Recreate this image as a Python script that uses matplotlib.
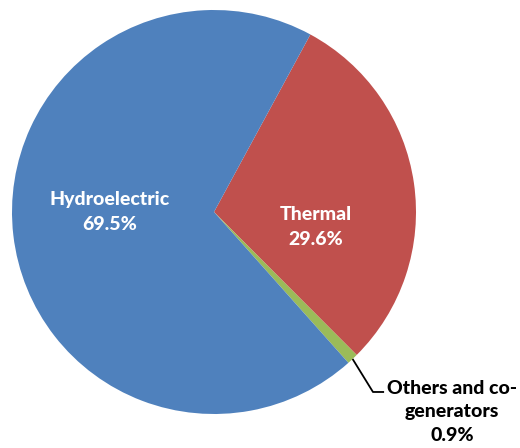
import matplotlib.pyplot as plt
import numpy as np

labels = ["Thermal", "Others and co-\ngenerators", "Hydroelectric"]
shares = [29.6, 0.9, 69.5]
colors = ["#C0504D", "#9BBB59", "#4F81BD"]

FONT = "Lato"

fig = plt.figure(figsize=(5.2, 4.48), dpi=100)
ax = fig.add_axes([12 / 520, 34 / 448, 404 / 520, 404 / 448])

wedges, _ = ax.pie(
    shares,
    colors=colors,
    startangle=61.5,
    counterclock=False,
    radius=1.0,
    wedgeprops={"linewidth": 0},
)
ax.set_xlim(-1, 1)
ax.set_ylim(-1, 1)
ax.set_aspect("equal")
ax.axis("off")

txt = dict(ha="center", va="center", fontweight="black", fontsize=14,
           family=FONT)
ax.text(-0.515, 0.0, f"{labels[2]}\n{shares[2]}%", color="white",
        linespacing=1.6, **txt)
ax.text(0.505, -0.074, f"{labels[0]}\n{shares[0]}%", color="white",
        linespacing=1.55, **txt)

# leader line for the small slice
w = wedges[1]
mid = np.deg2rad((w.theta1 + w.theta2) / 2)
x0, y0 = np.cos(mid), np.sin(mid)
ax.plot([x0, 0.787, 0.842], [y0, -0.891, -0.891], color="black", lw=1.3,
        clip_on=False, solid_capstyle="butt")
ax.text(1.178, -0.99, f"{labels[1]}\n{shares[1]}%", color="black",
        linespacing=1.45, **txt)

fig.savefig("out.png", dpi=100)
